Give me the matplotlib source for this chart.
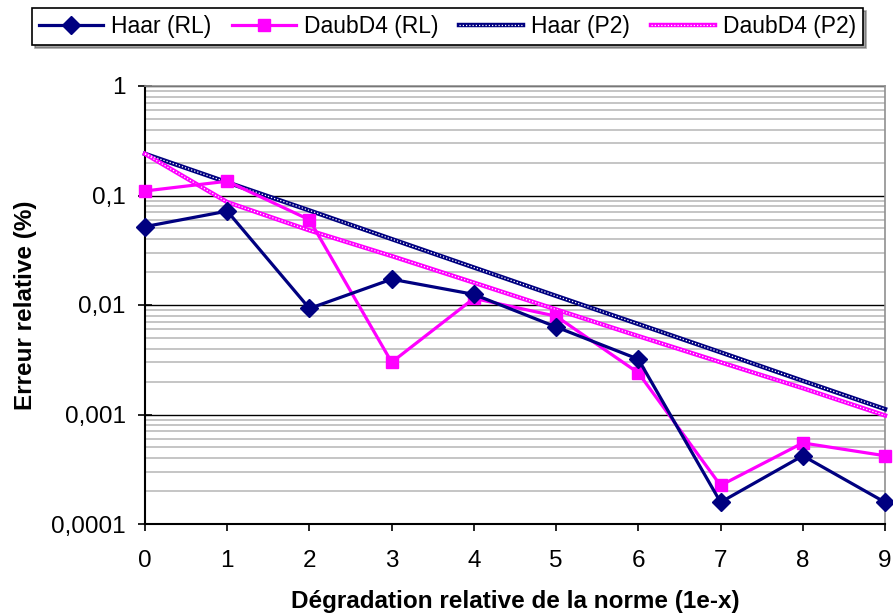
import numpy as np
import matplotlib
matplotlib.use('Agg')
import matplotlib.pyplot as plt
from matplotlib.ticker import LogLocator, NullFormatter
from matplotlib.lines import Line2D
from matplotlib.legend_handler import HandlerTuple

plt.rcParams['font.family'] = ['Liberation Sans', 'DejaVu Sans']

x = np.arange(10)
haar_rl = [0.052, 0.072, 0.0093, 0.0172, 0.0125, 0.0063, 0.0032, 0.000158, 0.00042, 0.000158]
daub_rl = [0.110, 0.135, 0.060, 0.0030, 0.0115, 0.0079, 0.0024, 0.000225, 0.00055, 0.00042]
haar_p2 = [0.24, 0.132, 0.073, 0.040, 0.022, 0.0121, 0.0067, 0.0037, 0.00203, 0.00112]
daub_p2 = [0.24, 0.087, 0.048, 0.028, 0.016, 0.0091, 0.0052, 0.0030, 0.00174, 0.00098]

yticks = [1, 0.1, 0.01, 0.001, 0.0001]
ylabels = ['1', '0,1', '0,01', '0,001', '0,0001']

navy = '#000080'
pink = '#FF00FF'

fig = plt.figure(figsize=(8.93, 6.15), dpi=100)
ax = fig.add_axes([145/893, 1-524/615, (885-145)/893, (524-86)/615])

ax.set_yscale('log')
ax.set_ylim(0.0001, 1)
ax.set_xlim(0, 9)

# grille : mineures grises, majeures noires
ax.yaxis.set_minor_locator(LogLocator(base=10, subs=np.arange(2, 10)))
ax.yaxis.set_minor_formatter(NullFormatter())
ax.grid(True, which='minor', axis='y', color='#c0c0c0', lw=1.3)
ax.grid(True, which='major', axis='y', color='black', lw=1.0)
ax.set_axisbelow(True)

# courbes de tendance (trait texturé)
def textured(y, c):
    base, = ax.plot(x, y, color=c, lw=3.2, clip_on=False, zorder=3)
    dots, = ax.plot(x, y, color='white', lw=0.9, ls=(0, (1, 1.6)), clip_on=False, zorder=3.1)
    return base, dots

hp2 = textured(haar_p2, navy)
dp2 = textured(daub_p2, pink)

hrl, = ax.plot(x, haar_rl, color=navy, lw=2.3, marker='D', ms=9, clip_on=False, zorder=5)
drl, = ax.plot(x, daub_rl, color=pink, lw=2.3, marker='s', ms=8.5, clip_on=False, zorder=4)

ax.set_yticks(yticks)
ax.set_yticklabels(ylabels)
ax.set_xticks(x)
ax.tick_params(axis='y', which='major', direction='inout', length=10, width=1.2, pad=9, labelsize=17.5)
ax.tick_params(axis='y', which='minor', length=0)
ax.tick_params(axis='x', direction='out', length=5, width=1.2, pad=14, labelsize=17.5)

for s in ['left', 'bottom']:
    ax.spines[s].set_color('black')
    ax.spines[s].set_linewidth(1.5)
for s in ['top', 'right']:
    ax.spines[s].set_color('#909090')
    ax.spines[s].set_linewidth(1.2)

ax.set_xlabel('Dégradation relative de la norme (1e-x)', fontsize=17.5, fontweight='bold', labelpad=13)
ax.set_ylabel('Erreur relative (%)', fontsize=17.5, fontweight='bold', labelpad=10)

def p2_handle(c):
    return (Line2D([], [], color=c, lw=3.2),
            Line2D([], [], color='white', lw=0.9, ls=(0, (1, 1.6))))

leg = fig.legend([hrl, drl, p2_handle(navy), p2_handle(pink)],
                 ['Haar (RL)', 'DaubD4 (RL)', 'Haar (P2)', 'DaubD4 (P2)'],
                 handler_map={tuple: HandlerTuple(ndivide=1, pad=0)},
                 loc='upper left', bbox_to_anchor=(32/893, 1-8/615), ncol=4,
                 fontsize=16.5, frameon=True, fancybox=False, shadow=True,
                 handlelength=2.8, handletextpad=0.35, columnspacing=0.9,
                 borderpad=0.3, borderaxespad=0)
leg.get_frame().set_edgecolor('black')
leg.get_frame().set_linewidth(1.2)

fig.savefig('out.png', dpi=100)
